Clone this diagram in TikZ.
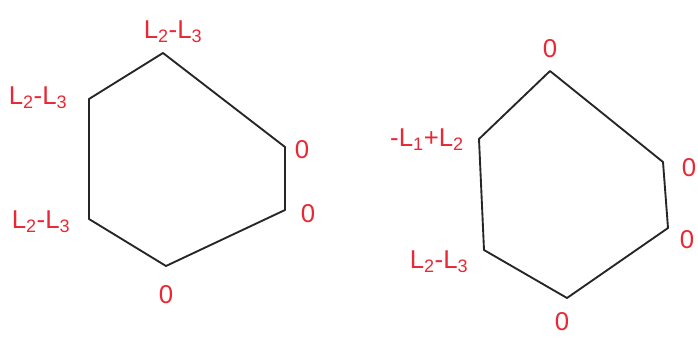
\documentclass[tikz,border=0pt]{standalone}
\usepackage{fontspec}
\setmainfont{Liberation Sans}
\usepackage{xcolor}
\definecolor{labelred}{RGB}{232,40,52}

\begin{document}
\begin{tikzpicture}[
    x=0.03cm, y=-0.03cm,
    edge/.style={draw=black!85, line width=1.6pt, line join=round},
    lbl/.style={text=labelred, font=\fontsize{22}{26}\selectfont, inner sep=0pt}
]
\useasboundingbox (0,0) rectangle (698,338);

% left hexagon
\coordinate (ltop) at (163,53);
\coordinate (lul) at (89,99);
\coordinate (lll) at (89,219);
\coordinate (lbot) at (166,266);
\coordinate (llr) at (285,210);
\coordinate (lur) at (285,147);

\draw[edge] (ltop) -- (lul) -- (lll) -- (lbot) -- (llr) -- (lur) -- cycle;

\node[lbl] (ltopl) at (173,32) {L\textsubscript{2}-L\textsubscript{3}};
\node[lbl] (lull) at (38,98) {L\textsubscript{2}-L\textsubscript{3}};
\node[lbl] (llll) at (41,222) {L\textsubscript{2}-L\textsubscript{3}};
\node[lbl] (lurl) at (302,150) {0};
\node[lbl] (llrl) at (308,214) {0};
\node[lbl] (lbotl) at (166,295) {0};

% right hexagon
\coordinate (rtop) at (550,71);
\coordinate (rul) at (479,139);
\coordinate (rll) at (484,250);
\coordinate (rbot) at (567,298);
\coordinate (rlr) at (668,228);
\coordinate (rur) at (663,162);

\draw[edge] (rtop) -- (rul) -- (rll) -- (rbot) -- (rlr) -- (rur) -- cycle;

\node[lbl] (rtopl) at (550,49) {0};
\node[lbl] (rull) at (427,140) {-L\textsubscript{1}+L\textsubscript{2}};
\node[lbl] (rlll) at (439,262) {L\textsubscript{2}-L\textsubscript{3}};
\node[lbl] (rurl) at (689,168) {0};
\node[lbl] (rlrl) at (687,240) {0};
\node[lbl] (rbotl) at (562,322) {0};
\end{tikzpicture}
\end{document}
